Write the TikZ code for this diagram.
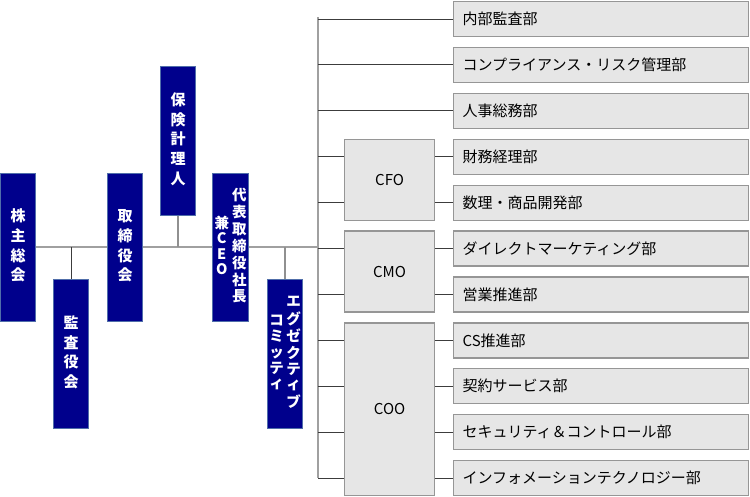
\documentclass[tikz,border=0pt]{standalone}
\usepackage{fontspec}
\newfontfamily\jp{Noto Sans CJK JP}
\setmainfont{Noto Sans CJK JP}
\definecolor{navyfill}{RGB}{0,0,140}
\definecolor{navyline}{RGB}{80,110,170}
\definecolor{boxfill}{RGB}{230,230,230}
\definecolor{boxline}{RGB}{150,150,150}
\definecolor{busline}{RGB}{160,160,160}
\definecolor{linkline}{RGB}{60,60,60}
\newcommand{\vcol}[1]{\begin{tabular}{@{}c@{}}#1\end{tabular}}
\tikzset{
  bluebox/.style={draw=navyline, line width=1pt, fill=navyfill, text=white,
    minimum width=35pt, inner sep=0pt, font=\jp\bfseries\fontsize{15}{19.7}\selectfont},
  bluebox2/.style={bluebox, font=\jp\bfseries\fontsize{14.5}{15.5}\selectfont},
  deptbox/.style={draw=boxline, line width=1.2pt, fill=boxfill, minimum width=295pt,
    minimum height=35pt, anchor=north west, align=left, text width=277pt,
    inner xsep=9pt, font=\jp\fontsize{15}{18}\selectfont},
  chiefbox/.style={draw=boxline, line width=1.2pt, fill=boxfill, minimum width=90pt,
    anchor=north west, font=\jp\fontsize{15}{18}\selectfont},
  bus/.style={draw=busline, line width=2pt},
  link/.style={draw=linkline, line width=1pt},
  glink/.style={draw=busline!90!black, line width=1.2pt},
}
\begin{document}
\begin{tikzpicture}[x=1pt,y=-1pt]
\useasboundingbox (0,0) rectangle (750,497);
% left blue boxes
\node[bluebox, minimum height=148pt, anchor=north west] (kabu) at (0,173) {\vcol{株\\主\\総\\会}};
\node[bluebox, minimum height=149pt, anchor=north west] (kansa) at (53,279) {\vcol{監\\査\\役\\会}};
\node[bluebox, minimum height=148pt, anchor=north west] (tori) at (107,173) {\vcol{取\\締\\役\\会}};
\node[bluebox, minimum height=149pt, anchor=north west] (hoken) at (160,66) {\vcol{保\\険\\計\\理\\人}};
\node[bluebox2, minimum width=36pt, minimum height=148pt, anchor=north west] (ceo) at (212,173)
  {\vcol{兼\\C\\E\\O}\hspace{3pt}\vcol{代\\表\\取\\締\\役\\社\\長}};
\node[bluebox2, minimum height=149pt, anchor=north west] (exec) at (267,279)
  {\vcol{コ\\ミ\\ッ\\テ\\ィ}\hspace{2.5pt}\vcol{エ\\グ\\ゼ\\ク\\テ\\ィ\\ブ}};
% bus
\coordinate (bt) at (318,17.5);
\coordinate (bb) at (318,477.5);
\coordinate (bm) at (318,247);
% right departments
\node[deptbox] (d1) at (453,1) {内部監査部};
\node[deptbox] (d2) at (453,46.9) {コンプライアンス・リスク管理部};
\node[deptbox] (d3) at (453,92.8) {人事総務部};
\node[deptbox] (d4) at (453,138.7) {財務経理部};
\node[deptbox] (d5) at (453,184.6) {数理・商品開発部};
\node[deptbox] (d6) at (453,230.5) {ダイレクトマーケティング部};
\node[deptbox] (d7) at (453,276.4) {営業推進部};
\node[deptbox] (d8) at (453,322.3) {CS推進部};
\node[deptbox] (d9) at (453,368.2) {契約サービス部};
\node[deptbox] (d10) at (453,414.1) {セキュリティ＆コントロール部};
\node[deptbox] (d11) at (453,460) {インフォメーションテクノロジー部};
% chiefs
\node[chiefbox, minimum height=80.9pt] (cfo) at (344,138.7) {CFO};
\node[chiefbox, minimum height=80.9pt] (cmo) at (344,230.5) {CMO};
\node[chiefbox, minimum height=172.7pt] (coo) at (344,322.3) {COO};
% main line
\draw[bus] (kabu.east |- bm) -- (tori.west |- bm);
\draw[bus] (tori.east |- bm) -- (ceo.west |- bm);
\draw[bus] (ceo.east |- bm) -- (bm);
\draw[bus] (bt) -- (bb);
% drops
\draw[link] (kansa.north) -- (kansa.north |- bm);
\draw[glink] (hoken.south) -- (hoken.south |- bm);
\draw[glink] (exec.north) -- (exec.north |- bm);
% direct departments
\foreach \d in {d1,d2,d3}{\draw[link] (\d.west -| bt) -- (\d.west);}
% chief connectors
\foreach \d/\c in {d4/cfo,d5/cfo,d6/cmo,d7/cmo,d8/coo,d9/coo,d10/coo,d11/coo}{
  \draw[link] (\d.west -| bt) -- (\d.west -| \c.west);
  \draw[link] (\d.west -| \c.east) -- (\d.west);
}
\end{tikzpicture}
\end{document}
